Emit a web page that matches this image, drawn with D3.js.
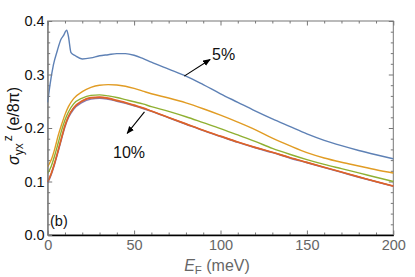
<!DOCTYPE html>
<html>
<head>
<meta charset="utf-8">
<script src="https://cdn.jsdelivr.net/npm/d3@7"></script>
<style>
  body { margin: 0; background: #fff; }
  svg { font-family: "Liberation Sans", Arial, sans-serif; }
</style>
</head>
<body>
<svg id="chart" width="415" height="277"></svg>
<script>
// energy grid (meV) shared by the smooth curves
var energy = [0, 2, 4, 6, 8, 10, 12, 15, 20, 25, 30, 35, 40, 45, 50, 55, 60, 70, 80, 90,
              100, 110, 120, 130, 140, 150, 160, 170, 180, 190, 200];

// 5% curve has its own grid because of the spike near 10 meV
var energyBlue = [0, 1.3, 3.3, 5.6, 7.7, 9, 11, 12, 13.5, 16, 20, 25, 30, 35, 40, 45, 50, 55, 60,
                  70, 80, 90, 100, 110, 120, 130, 140, 150, 160, 170, 180, 190, 200];
var sigma5 = [0.248, 0.28, 0.318, 0.345, 0.366, 0.372, 0.383, 0.371, 0.341, 0.335, 0.329, 0.331,
              0.335, 0.337, 0.339, 0.339, 0.336, 0.330, 0.323, 0.310, 0.297, 0.281, 0.264, 0.248,
              0.232, 0.217, 0.203, 0.189, 0.177, 0.167, 0.158, 0.150, 0.1425];

var sigma6 = [0.128, 0.14, 0.16, 0.185, 0.206, 0.225, 0.24, 0.255, 0.268, 0.276, 0.28, 0.281, 0.2805,
              0.278, 0.274, 0.269, 0.264, 0.256, 0.247, 0.236, 0.224, 0.211, 0.197, 0.181, 0.167,
              0.154, 0.144, 0.136, 0.129, 0.122, 0.116];
var sigma7 = [0.115, 0.128, 0.148, 0.171, 0.195, 0.215, 0.23, 0.245, 0.256, 0.261, 0.262, 0.26, 0.257,
              0.253, 0.249, 0.245, 0.240, 0.231, 0.221, 0.210, 0.199, 0.187, 0.175, 0.162, 0.151,
              0.141, 0.132, 0.124, 0.116, 0.108, 0.100];
var sigma8 = [0.10, 0.115, 0.135, 0.158, 0.182, 0.205, 0.222, 0.238, 0.251, 0.257, 0.258, 0.256, 0.252,
              0.248, 0.243, 0.238, 0.232, 0.220, 0.208, 0.196, 0.185, 0.174, 0.164, 0.155, 0.145,
              0.136, 0.127, 0.118, 0.109, 0.100, 0.0916];
var sigma9 = [0.097, 0.112, 0.132, 0.155, 0.179, 0.202, 0.219, 0.235, 0.248, 0.254, 0.2555, 0.2535, 0.25,
              0.246, 0.2415, 0.2365, 0.231, 0.219, 0.207, 0.195, 0.184, 0.173, 0.163, 0.154, 0.144,
              0.135, 0.126, 0.117, 0.108, 0.0995, 0.091];
var sigma10 = [0.099, 0.114, 0.134, 0.157, 0.181, 0.204, 0.221, 0.237, 0.250, 0.256, 0.257, 0.255, 0.251,
               0.247, 0.242, 0.237, 0.2315, 0.2195, 0.2075, 0.1955, 0.1845, 0.1735, 0.1635, 0.1545, 0.1445,
               0.1355, 0.1265, 0.1175, 0.1085, 0.0998, 0.0913];

var series = [
  {x: energyBlue, y: sigma5, color: "#5E81B5"},
  {x: energy, y: sigma6, color: "#E19C24"},
  {x: energy, y: sigma7, color: "#8FB032"},
  {x: energy, y: sigma9, color: "#8778B3"},
  {x: energy, y: sigma8, color: "#EB6235"},
  {x: energy, y: sigma10, color: "#D8642A"}
];

var xMajor = [0, 50, 100, 150, 200];
var yMajor = [0.0, 0.1, 0.2, 0.3, 0.4];

var svg = d3.select("#chart");
var pLeft = 47.7, pRight = 393.3, pTop = 21, pBottom = 235;

var x = d3.scaleLinear().domain([0, 200]).range([pLeft, pRight]);
var y = d3.scaleLinear().domain([0, 0.4]).range([pBottom, pTop]);

var xMinor = d3.range(0, 201, 10).filter(function(d) { return d % 50 != 0; });
var yMinor = d3.range(0, 0.401, 0.02).filter(function(d) { return Math.abs(d * 10 - Math.round(d * 10)) > 1e-6; });

// minor ticks
function minor(axis, g) {
  g.call(axis).call(function(s) { s.select(".domain").remove(); s.selectAll("text").remove(); })
    .selectAll("line").attr("stroke", "#777");
}
minor(d3.axisBottom(x).tickValues(xMinor).tickSizeInner(-2.5).tickSizeOuter(0),
      svg.append("g").attr("transform", "translate(0," + pBottom + ")"));
minor(d3.axisTop(x).tickValues(xMinor).tickSizeInner(-2.5).tickSizeOuter(0),
      svg.append("g").attr("transform", "translate(0," + pTop + ")"));
minor(d3.axisLeft(y).tickValues(yMinor).tickSizeInner(-2.5).tickSizeOuter(0),
      svg.append("g").attr("transform", "translate(" + pLeft + ",0)"));
minor(d3.axisRight(y).tickValues(yMinor).tickSizeInner(-2.5).tickSizeOuter(0),
      svg.append("g").attr("transform", "translate(" + pRight + ",0)"));

// frame
svg.append("rect").attr("x", pLeft).attr("y", pTop)
  .attr("width", pRight - pLeft).attr("height", pBottom - pTop)
  .attr("fill", "none").attr("stroke", "#777").attr("stroke-width", 1);

// major ticks on top / right
[d3.axisTop(x).tickValues(xMajor), d3.axisRight(y).tickValues(yMajor)].forEach(function(ax, i) {
  var g = svg.append("g").attr("transform", i == 0 ? "translate(0," + pTop + ")" : "translate(" + pRight + ",0)");
  g.call(ax.tickSizeInner(-4.5).tickSizeOuter(0).tickFormat(""));
  g.select(".domain").remove();
  g.selectAll("line").attr("stroke", "#777");
});

// curves
var line = d3.line().curve(d3.curveMonotoneX);
series.forEach(function(s) {
  svg.append("path")
    .datum(s.y.map(function(v, i) { return [x(s.x[i]), y(v)]; }))
    .attr("d", line)
    .attr("fill", "none")
    .attr("stroke", s.color)
    .attr("stroke-width", 1.4);
});

// bottom axis
var gx = svg.append("g").attr("transform", "translate(0," + pBottom + ")")
  .call(d3.axisBottom(x).tickValues(xMajor).tickSizeInner(-4.5).tickSizeOuter(0).tickPadding(5));
gx.select(".domain").attr("stroke", "#000").attr("stroke-width", 1.3);
gx.selectAll("line").attr("stroke", "#777");
gx.selectAll("text").attr("font-size", 14.5).attr("fill", "#666").style("font-family", "Liberation Sans, Arial, sans-serif");

// left axis
var gy = svg.append("g").attr("transform", "translate(" + pLeft + ",0)")
  .call(d3.axisLeft(y).tickValues(yMajor).tickSizeInner(-4.5).tickSizeOuter(0).tickPadding(3).tickFormat(d3.format(".1f")));
gy.select(".domain").attr("stroke", "#777");
gy.selectAll("line").attr("stroke", "#777");
gy.selectAll("text").attr("font-size", 14.5).attr("fill", "#111").style("font-family", "Liberation Sans, Arial, sans-serif");

// axis titles
var xt = svg.append("text").attr("x", 217).attr("y", 271).attr("text-anchor", "middle")
  .attr("font-size", 16).attr("fill", "#666");
xt.append("tspan").attr("font-style", "italic").text("E");
xt.append("tspan").attr("font-size", 11.5).attr("dy", 3).text("F");
xt.append("tspan").attr("dy", -3).text(" (meV)");

var yt = svg.append("text").attr("transform", "translate(19,126) rotate(-90)")
  .attr("text-anchor", "middle").attr("font-size", 16).attr("fill", "#111");
yt.append("tspan").attr("font-style", "italic").text("σ");
yt.append("tspan").attr("font-size", 12).attr("dy", 3.5).text("yx");
yt.append("tspan").attr("font-size", 12).attr("dy", -10.5).attr("dx", 2).text("z");
yt.append("tspan").attr("dy", 7).text(" (e/8π)");

// annotations
svg.append("defs").append("marker").attr("id", "head")
  .attr("viewBox", "0 0 10 10").attr("refX", 9).attr("refY", 5)
  .attr("markerWidth", 7).attr("markerHeight", 7).attr("orient", "auto")
  .append("path").attr("d", "M0,1 L10,5 L0,9 Z").attr("fill", "#000");

svg.append("line").attr("x1", x(79)).attr("y1", y(0.297)).attr("x2", x(94)).attr("y2", y(0.328))
  .attr("stroke", "#000").attr("stroke-width", 1.1).attr("marker-end", "url(#head)");
svg.append("text").attr("x", 212).attr("y", 60).attr("font-size", 16).attr("fill", "#111").text("5%");

svg.append("line").attr("x1", x(56)).attr("y1", y(0.230)).attr("x2", x(46)).attr("y2", y(0.190))
  .attr("stroke", "#000").attr("stroke-width", 1.1).attr("marker-end", "url(#head)");
svg.append("text").attr("x", 113).attr("y", 158).attr("font-size", 16).attr("fill", "#111").text("10%");

svg.append("text").attr("x", 50).attr("y", 226).attr("font-size", 14.5).attr("fill", "#111").text("(b)");
</script>
</body>
</html>
